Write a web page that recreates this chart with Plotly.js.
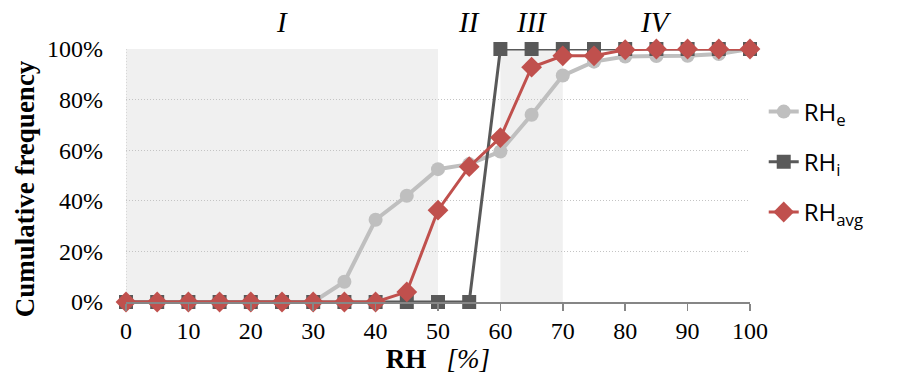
<!DOCTYPE html>
<html>
<head>
<meta charset="utf-8">
<script src="https://cdn.plot.ly/plotly-3.0.1.min.js"></script>
<style>html,body{margin:0;padding:0;background:#fff;}#chart{width:898px;height:381px;}</style>
</head>
<body>
<div id="chart"></div>
<script>
const rh = [0,5,10,15,20,25,30,35,40,45,50,55,60,65,70,75,80,85,90,95,100];
const rhE = [0,0,0,0,0,0,0,8,32.5,42,52.5,54.5,59.5,74,89.5,95,97,97.2,97.3,98,100];
const rhI = [0,0,0,0,0,0,0,0,0,0,0,0,100,100,100,100,100,100,100,100,100];
const rhAvg = [0,0,0,0,0,0,0,0,0,4,36.3,53.5,65,92.8,97.3,97.3,99.7,100,100,100,100];
const seriesNames = ['RH<sub>e</sub>','RH<sub>i</sub>','RH<sub>avg</sub>'];
const xTicks = [0,10,20,30,40,50,60,70,80,90,100];
const yTicks = [0,20,40,60,80,100];
const yTickText = ['0%','20%','40%','60%','80%','100%'];
const zoneLabels = ['I','II','III','IV'];
const zoneLabelX = [25,55,65,85];
const shadedZones = [[0,50],[60,70]];

const serif = 'Liberation Serif, Times New Roman, serif';
const sans = 'Open Sans, Liberation Sans, sans-serif';

const traces = [
  {x: rh, y: rhE, name: seriesNames[0], mode:'lines+markers', legendgroup:'a',
   line:{color:'#bfbfbf', width:4}, marker:{symbol:'circle', size:14, color:'#bfbfbf'}, cliponaxis:false},
  {x: rh, y: rhI, name: seriesNames[1], mode:'lines+markers', legendgroup:'b',
   line:{color:'#595959', width:3}, marker:{symbol:'square', size:14, color:'#595959'}, cliponaxis:false},
  {x: rh, y: rhAvg, name: seriesNames[2], mode:'lines+markers', legendgroup:'c',
   line:{color:'#c0504d', width:3}, marker:{symbol:'diamond', size:16, color:'#c0504d'}, cliponaxis:false}
];

const shapes = shadedZones.map(z => ({type:'rect', xref:'x', yref:'y', x0:z[0], x1:z[1], y0:0, y1:100,
  fillcolor:'#f0f0f0', line:{width:0}, layer:'below'}));
shapes.push({type:'line', xref:'x', yref:'y', x0:0, x1:0, y0:0, y1:100, line:{color:'#bdbdbd', width:1, dash:'1px,2px'}, layer:'below'});

const annotations = zoneLabels.map((t,i) => ({text:t, x:zoneLabelX[i], xref:'x', y:1.105, yref:'paper',
  showarrow:false, yanchor:'middle', font:{family:serif, size:29, color:'#000', style:'italic'}}));

const layout = {
  width:898, height:381,
  margin:{l:126, r:148, t:49, b:79},
  paper_bgcolor:'#fff', plot_bgcolor:'rgba(0,0,0,0)',
  showlegend:true,
  legend:{x:1.022, xanchor:'left', y:0.84, yanchor:'top', font:{family:sans, size:24, color:'#000'},
    tracegroupgap:16, bgcolor:'rgba(0,0,0,0)'},
  xaxis:{range:[0,100], tickmode:'array', tickvals:xTicks, showgrid:false, zeroline:false,
    showline:true, linecolor:'#868686', linewidth:1.5, ticks:'outside', ticklen:7, tickcolor:'#868686', tickwidth:1.5,
    tickfont:{family:serif, size:24, color:'#000'},
    title:{text:'<b>RH</b>&nbsp;&nbsp;&nbsp;<i>[%]</i>', font:{family:serif, size:27, color:'#000'}, standoff:6}},
  yaxis:{range:[0,100], tickmode:'array', tickvals:yTicks, ticktext:yTickText, showgrid:true, gridcolor:'#c4c4c4', griddash:'1px,2px', gridwidth:1,
    zeroline:false, showline:false, ticks:'', ticklabelstandoff:22,
    tickfont:{family:serif, size:24, color:'#000'},
    title:{text:'<b>Cumulative frequency</b>&nbsp;&nbsp;&nbsp;&nbsp;', font:{family:serif, size:27, color:'#000'}, standoff:4}},
  shapes: shapes,
  annotations: annotations
};

Plotly.newPlot('chart', traces, layout, {displayModeBar:false, staticPlot:true});
</script>
</body>
</html>
